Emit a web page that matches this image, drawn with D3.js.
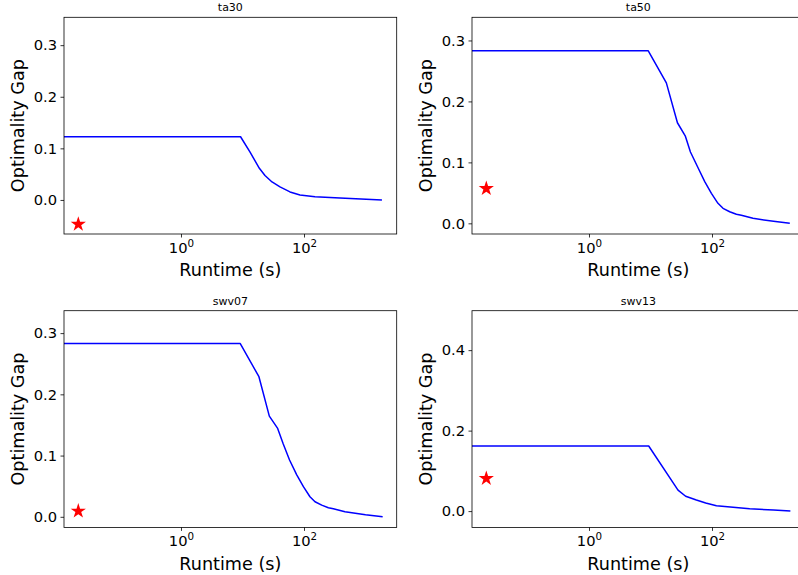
<!DOCTYPE html>
<html>
<head>
<meta charset="utf-8">
<script src="https://cdn.jsdelivr.net/npm/d3@7"></script>
<style>
  html, body { margin: 0; padding: 0; background: #fff; }
  svg { display: block; font-family: "DejaVu Sans", sans-serif; }
</style>
</head>
<body>
<svg id="chart" width="798" height="575"></svg>
<script>
// ---------- data ----------
const titles = ["ta30", "ta50", "swv07", "swv13"];

const ta30Time = [0.001, 9.3, 13.2, 18.8, 23.2, 30.2, 40.7, 59.2, 86, 151, 385, 1850];
const ta30Gap  = [0.1225, 0.1225, 0.093, 0.0614, 0.0475, 0.0349, 0.0252, 0.0155, 0.0097, 0.0062, 0.0039, 0];

const ta50Time = [0.001, 9.2, 18.1, 27.4, 36.9, 44.6, 58.2, 76.2, 97.8, 125, 151, 194, 249, 300, 464, 1000, 1840];
const ta50Gap  = [0.283, 0.283, 0.2305, 0.165, 0.143, 0.117, 0.0928, 0.0685, 0.0492, 0.0328, 0.0246, 0.019, 0.0148, 0.0131, 0.0082, 0.0033, 0];

const swv07Time = [0.001, 9.2, 18.5, 27.3, 37.3, 46, 58.2, 76.2, 97.8, 125, 151, 194, 249, 300, 464, 1000, 1900];
const swv07Gap  = [0.283, 0.283, 0.2288, 0.1645, 0.1444, 0.1188, 0.0928, 0.0685, 0.0492, 0.0328, 0.0246, 0.019, 0.0148, 0.0131, 0.0082, 0.0033, 0];

const swv13Time = [0.001, 9.35, 28, 37.3, 55.7, 79, 118, 410, 1000, 1880];
const swv13Gap  = [0.1617, 0.1617, 0.0522, 0.037, 0.0274, 0.02, 0.0132, 0.0057, 0.0025, 0];

const starTime = [0.0214, 0.0214, 0.0214, 0.0214];
const starGap  = [-0.047, 0.057, 0.0093, 0.081];

const xDomain = [0.01253, 3214];
const yDomains = [[-0.066, 0.354], [-0.0175, 0.338], [-0.0173, 0.3366], [-0.0405, 0.498]];
const yTickValues = [[0, 0.1, 0.2, 0.3], [0, 0.1, 0.2, 0.3], [0, 0.1, 0.2, 0.3], [0, 0.2, 0.4]];
const xTickValues = [1, 100];
const xLabel = "Runtime (s)";
const yLabel = "Optimality Gap";

const seriesTime = [ta30Time, ta50Time, swv07Time, swv13Time];
const seriesGap  = [ta30Gap, ta50Gap, swv07Gap, swv13Gap];

// ---------- layout ----------
const svg = d3.select("#chart");
const lefts = [64, 472];
const tops = [17.3, 310.7];
const W = 332.7, H = 216.7;
const tickFont = 14.7, labelFont = 17.6, titleFont = 11;

titles.forEach((title, i) => {
  const left = lefts[i % 2], top = tops[Math.floor(i / 2)];
  const g = svg.append("g").attr("transform", `translate(${left},${top})`);

  const x = d3.scaleLog().domain(xDomain).range([0, W]);
  const y = d3.scaleLinear().domain(yDomains[i]).range([H, 0]);

  const clipId = "clip" + i;
  g.append("clipPath").attr("id", clipId)
    .append("rect").attr("width", W).attr("height", H);

  // line
  const pts = seriesTime[i].map((t, k) => [t, seriesGap[i][k]]);
  g.append("path")
    .datum(pts)
    .attr("clip-path", `url(#${clipId})`)
    .attr("fill", "none")
    .attr("stroke", "#0000ff")
    .attr("stroke-width", 1.5)
    .attr("stroke-linejoin", "round")
    .attr("d", d3.line().x(d => x(d[0])).y(d => y(d[1])));

  // star
  g.append("path")
    .attr("d", d3.symbol().type(d3.symbolStar).size(72)())
    .attr("transform", `translate(${x(starTime[i])},${y(starGap[i])})`)
    .attr("fill", "#ff0000");

  // y axis
  const yAxis = g.append("g")
    .call(d3.axisLeft(y).tickValues(yTickValues[i]).tickFormat(d3.format(".1f"))
      .tickSize(3.5).tickPadding(3.5));
  yAxis.select(".domain").remove();
  yAxis.selectAll("text").attr("font-size", tickFont).attr("font-family", "DejaVu Sans").attr("fill", "#000");
  yAxis.selectAll("line").attr("stroke", "#000").attr("stroke-width", 0.8);

  // x axis
  const xAxis = g.append("g").attr("transform", `translate(0,${H})`)
    .call(d3.axisBottom(x).tickValues(xTickValues).tickFormat("").tickSize(3.5));
  xAxis.select(".domain").remove();
  xAxis.selectAll("line").attr("stroke", "#000").attr("stroke-width", 0.8);
  xAxis.selectAll(".tick").each(function(d) {
    const t = d3.select(this).append("text")
      .attr("y", 18.5)
      .attr("text-anchor", "middle")
      .attr("font-size", tickFont)
      .attr("font-family", "DejaVu Sans")
      .attr("fill", "#000");
    t.append("tspan").text("10");
    t.append("tspan").attr("font-size", 10.3).attr("dy", -6).text(String(Math.round(Math.log10(d))));
  });

  // frame
  g.append("rect").attr("width", W).attr("height", H)
    .attr("fill", "none").attr("stroke", "#000").attr("stroke-width", 0.8);

  // title
  g.append("text").attr("x", W / 2).attr("y", -6)
    .attr("text-anchor", "middle").attr("font-size", titleFont).attr("fill", "#000")
    .text(title);

  // x label
  g.append("text").attr("x", W / 2).attr("y", H + 42.5)
    .attr("text-anchor", "middle").attr("font-size", labelFont).attr("fill", "#000")
    .text(xLabel);

  // y label
  g.append("text")
    .attr("transform", `translate(-40,${H / 2}) rotate(-90)`)
    .attr("text-anchor", "middle").attr("font-size", labelFont).attr("fill", "#000")
    .text(yLabel);
});
</script>
</body>
</html>
